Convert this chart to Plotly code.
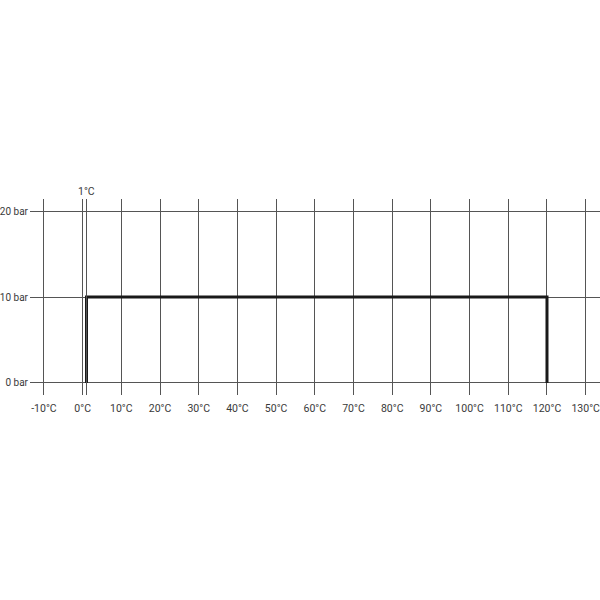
import plotly.graph_objects as go

# Datos del rango de trabajo (temperatura en °C, presion en bar)
temp = [1, 1, 120, 120]
presion = [0, 10, 10, 0]

# Ticks
x_ticks = list(range(-10, 140, 10))
x_labels = [f"{t}°C" for t in x_ticks]
y_ticks = [0, 10, 20]
y_labels = [f"{p} bar" for p in y_ticks]

# Temperatura minima marcada
t_min = 1
t_min_label = "1°C"

fuente = "Roboto, sans-serif"
gris = "#555555"
texto = "#3a3a3a"

fig = go.Figure()
fig.add_trace(go.Scatter(x=temp, y=presion, mode="lines",
                         line=dict(color="#1a1a1a", width=3), showlegend=False))

# Linea vertical de la temperatura minima
fig.add_vline(x=t_min, line=dict(color=gris, width=1))
fig.add_annotation(text=t_min_label, x=t_min, xref="x", y=1, yref="paper",
                   yanchor="bottom", showarrow=False, yshift=-1,
                   font=dict(family=fuente, size=10.5, color=texto))

fig.update_xaxes(range=[-13.6, 133.7], tickvals=x_ticks, ticktext=x_labels,
                 showgrid=True, gridcolor=gris, gridwidth=1, zeroline=False,
                 showline=False, ticks="", ticklabelstandoff=5, automargin=False,
                 ticklabeloverflow="allow",
                 tickfont=dict(family=fuente, size=10.5, color=texto))
fig.update_yaxes(range=[-1.4, 21.4], tickvals=y_ticks, ticktext=y_labels,
                 showgrid=True, gridcolor=gris, gridwidth=1, zeroline=False,
                 showline=False, ticks="", ticklabelstandoff=1, automargin=False,
                 ticklabeloverflow="allow",
                 tickfont=dict(family=fuente, size=10, color=texto))

fig.update_layout(width=600, height=600, plot_bgcolor="white", paper_bgcolor="white",
                  margin=dict(l=30, r=0, t=199, b=205))

# Quita el margen por defecto del body para que el grafico quede en (0,0)
fig.write_html("out.html", config={"displayModeBar": False},
               post_script="document.body.style.margin='0';")
